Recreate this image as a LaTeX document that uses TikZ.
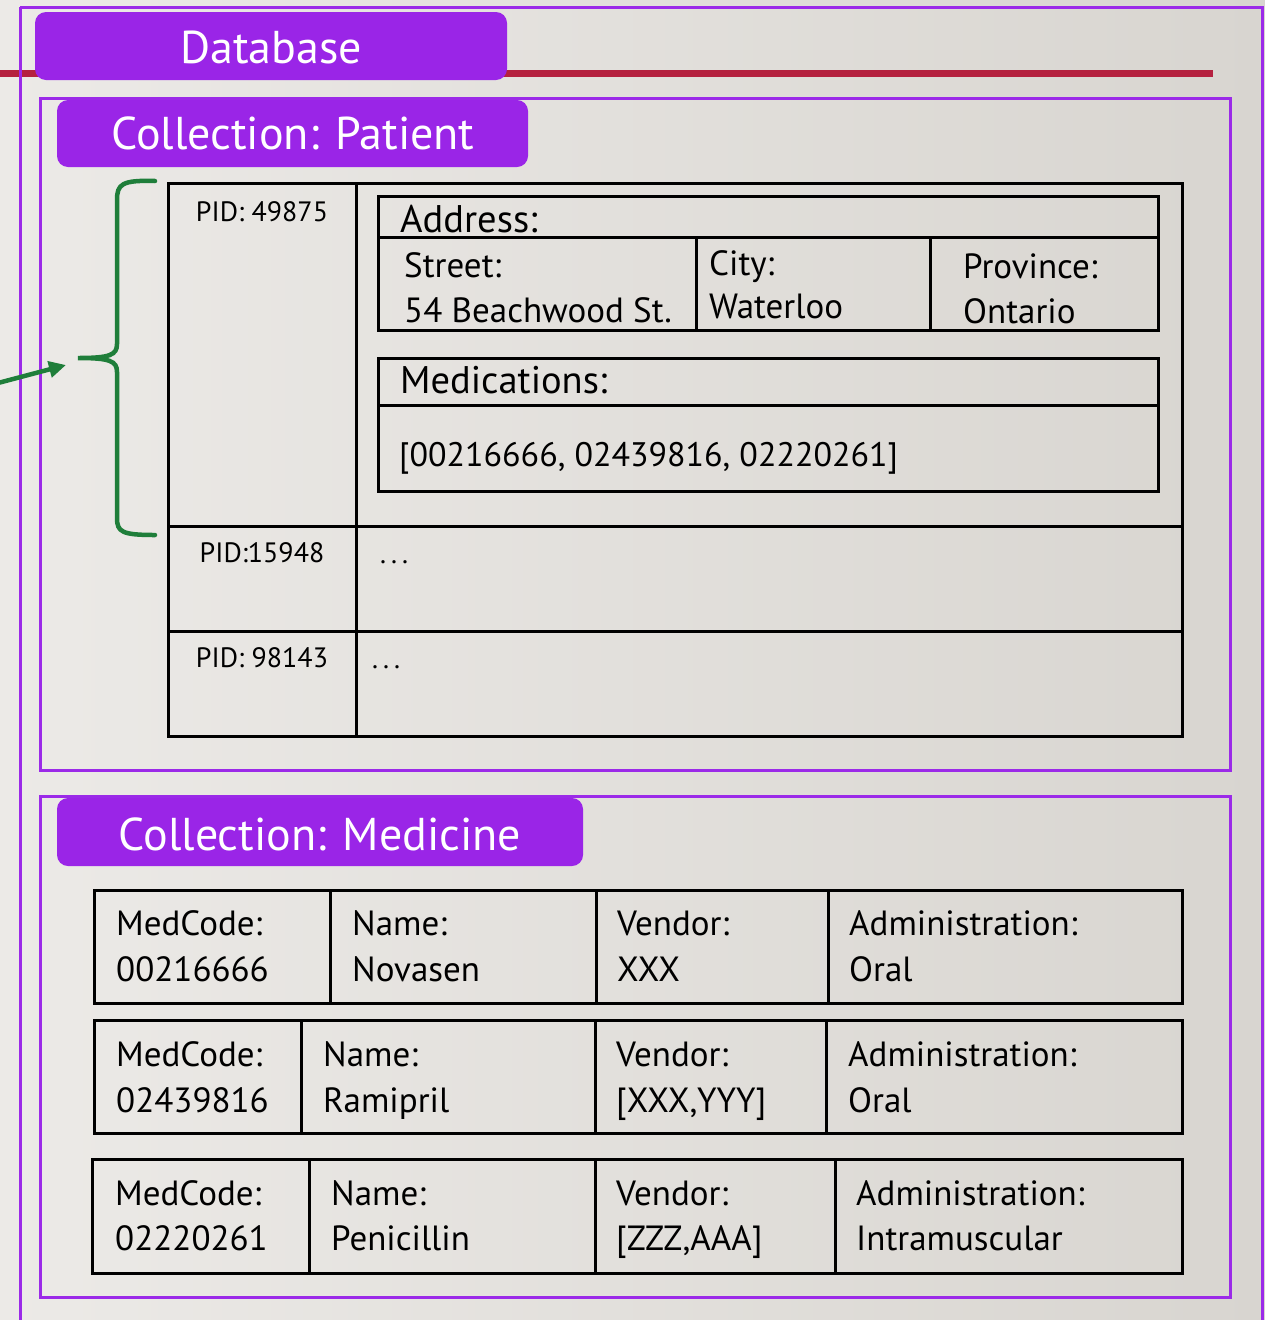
\documentclass[tikz,border=0pt]{standalone}
\usepackage{fontspec}
\setmainfont{PT Sans}
\usetikzlibrary{arrows.meta}
\definecolor{bgL}{HTML}{ECEAE7}
\definecolor{bgR}{HTML}{D8D5D0}
\definecolor{tabpurple}{HTML}{9A25E7}
\definecolor{linepurple}{HTML}{9B2AE8}
\definecolor{rulered}{HTML}{B5213F}
\definecolor{bracegreen}{HTML}{1F7E3A}
\begin{document}
\begin{tikzpicture}[x=1pt,y=-1pt,
  frame/.style={draw=linepurple,line width=3pt},
  tab/.style={fill=tabpurple,rounded corners=11pt},
  tabtext/.style={text=white,anchor=base,inner sep=0pt,font=\fontsize{46}{50}\selectfont},
  cell/.style={draw=black,line width=3pt},
  lbl/.style={anchor=base west,inner sep=0pt,font=\fontsize{35}{40}\selectfont},
  head/.style={anchor=base west,inner sep=0pt,font=\fontsize{38.5}{42}\selectfont},
  pid/.style={anchor=base,inner sep=0pt,font=\fontsize{28}{32}\selectfont},
  dots/.style={anchor=base west,inner sep=0pt,font=\fontsize{28}{32}\selectfont}]
\useasboundingbox (0,0) rectangle (1265,1320);
% background
\shade[left color=bgL,right color=bgR] (0,0) rectangle (1265,1320);

% rule and database frame
\draw[rulered,line width=7pt] (0,73) -- (1213,73);
\draw[frame] (20,7) -- (1262,7) -- (1262,1330);
\draw[frame] (20,7) -- (20,1330);
\fill[tab] (35,12) rectangle (507,80);
\node[tabtext] (db) at (271,63) {Database};

% patient collection
\draw[frame] (40,98) rectangle (1230,770);
\fill[tab] (57,100) rectangle (528,167);
\node[tabtext] (colP) at (293,149) {Collection: Patient};

\draw[cell] (168,183) rectangle (1182,736);
\draw[cell] (356,183) -- (356,736);
\draw[cell] (168,526) -- (1182,526);
\draw[cell] (168,631) -- (1182,631);
\node[pid] (pid1) at (262,221) {PID: 49875};
\node[pid] (pid2) at (262,562) {PID:15948};
\node[pid] (pid3) at (262,667) {PID: 98143};
\node[dots] (more2) at (380,563) {.\kern5pt.\kern5pt.};
\node[dots] (more3) at (372,668) {.\kern5pt.\kern5pt.};

% address sub-document
\draw[cell] (378,196) rectangle (1158,330);
\draw[cell] (378,237) -- (1158,237);
\draw[cell] (696,237) -- (696,330);
\draw[cell] (930,237) -- (930,330);
\node[head] (addr) at (400,232) {Address:};
\node[lbl] (street) at (404,277) {Street:};
\node[lbl] (streetv) at (404,322) {54 Beachwood St.};
\node[lbl] (city) at (709,275) {City:};
\node[lbl] (cityv) at (709,318) {Waterloo};
\node[lbl] (prov) at (963,278) {Province:};
\node[lbl] (provv) at (963,323) {Ontario};

% medications array
\draw[cell] (378,358) rectangle (1158,491);
\draw[cell] (378,405) -- (1158,405);
\node[head] (meds) at (400,393) {Medications:};
\node[lbl,font=\fontsize{34}{38}\selectfont] (medsv) at (399,466) {[00216666, 02439816, 02220261]};

% brace grouping the first document
\coordinate (bracetip) at (78,358);
\draw[bracegreen,line width=4.5pt,line cap=round]
  (155,181) .. controls (122,180) and (117,184) .. (117,200) -- (117,344)
  .. controls (117,355) and (110,358) .. (bracetip)
  .. controls (110,358) and (117,361) .. (117,372) -- (117,518)
  .. controls (117,532) and (122,535) .. (155,535);
\coordinate (arrowstart) at (-2,383);
\coordinate (arrowend) at (66,365);
\draw[bracegreen,line width=4.5pt,-{Triangle[length=17pt,width=16pt]}] (arrowstart) -- (arrowend);

% medicine collection
\draw[frame] (40,796) rectangle (1230,1297);
\fill[tab] (57,798) rectangle (583,866);
\node[tabtext] (colM) at (320,850) {Collection: Medicine};

% medicine row 1
\draw[cell] (94,890) rectangle (1182,1003);
\draw[cell] (330,890) -- (330,1003);
\draw[cell] (596,890) -- (596,1003);
\draw[cell] (828,890) -- (828,1003);
\node[lbl] (m1c) at (116,935) {MedCode:};
\node[lbl] (m1cv) at (116,981) {00216666};
\node[lbl] (m1n) at (352,935) {Name:};
\node[lbl] (m1nv) at (352,981) {Novasen};
\node[lbl] (m1v) at (617,935) {Vendor:};
\node[lbl] (m1vv) at (617,981) {XXX};
\node[lbl] (m1a) at (849,935) {Administration:};
\node[lbl] (m1av) at (849,981) {Oral};

% medicine row 2
\draw[cell] (94,1020) rectangle (1182,1133);
\draw[cell] (301,1020) -- (301,1133);
\draw[cell] (595,1020) -- (595,1133);
\draw[cell] (826,1020) -- (826,1133);
\node[lbl] (m2c) at (116,1066) {MedCode:};
\node[lbl] (m2cv) at (116,1112) {02439816};
\node[lbl] (m2n) at (323,1066) {Name:};
\node[lbl] (m2nv) at (323,1112) {Ramipril};
\node[lbl] (m2v) at (616,1066) {Vendor:};
\node[lbl] (m2vv) at (616,1112) {[XXX,YYY]};
\node[lbl] (m2a) at (848,1066) {Administration:};
\node[lbl] (m2av) at (848,1112) {Oral};

% medicine row 3
\draw[cell] (92,1159) rectangle (1182,1273);
\draw[cell] (309,1159) -- (309,1273);
\draw[cell] (595,1159) -- (595,1273);
\draw[cell] (835,1159) -- (835,1273);
\node[lbl] (m3c) at (115,1205) {MedCode:};
\node[lbl] (m3cv) at (115,1250) {02220261};
\node[lbl] (m3n) at (331,1205) {Name:};
\node[lbl] (m3nv) at (331,1250) {Penicillin};
\node[lbl] (m3v) at (616,1205) {Vendor:};
\node[lbl] (m3vv) at (616,1250) {[ZZZ,AAA]};
\node[lbl] (m3a) at (856,1205) {Administration:};
\node[lbl] (m3av) at (856,1250) {Intramuscular};
\end{tikzpicture}
\end{document}
